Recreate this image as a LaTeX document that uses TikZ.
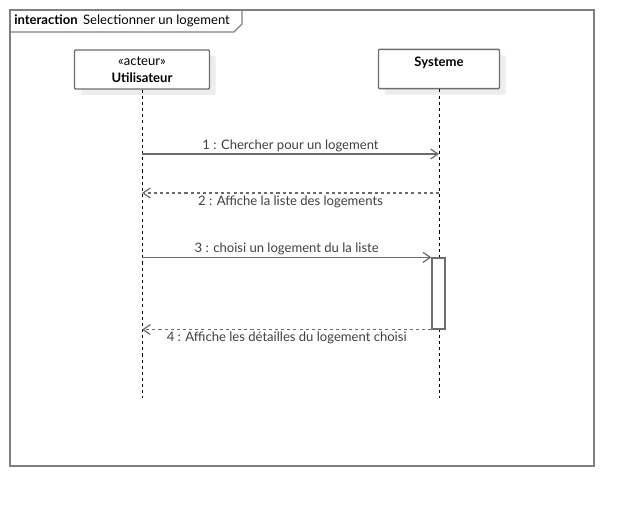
\documentclass[tikz,border=0pt]{standalone}
\usepackage{fontspec}
\setmainfont{Lato}
\usetikzlibrary{arrows.meta,positioning,shadows}
\definecolor{framegray}{HTML}{808080}
\definecolor{boxgray}{HTML}{6E6E6E}
\definecolor{msggray}{HTML}{6A6A6A}
\definecolor{labelgray}{HTML}{404040}
\definecolor{shadegray}{HTML}{EDEDED}
\tikzset{
  lifebox/.style={draw=boxgray, fill=white, line width=1.1pt, rounded corners=0.8pt,
    align=center, inner sep=0pt, font=\fontsize{9.8}{12.5}\selectfont,
    drop shadow={shadow xshift=4.5pt, shadow yshift=-4.5pt, fill=shadegray, opacity=1}},
  lifeline/.style={black, line width=0.6pt, dash pattern=on 2.3pt off 2.3pt},
  msg/.style={draw=msggray, line width=0.9pt, -{Straight Barb[length=5.5pt, width=7.5pt]}},
  reply/.style={msg, dash pattern=on 2.3pt off 2.3pt},
  msglabel/.style={font=\fontsize{9.8}{11}\selectfont, text=labelgray, inner sep=1.5pt},
  activation/.style={draw=boxgray, fill=white, line width=0.9pt}
}
\begin{document}
\begin{tikzpicture}[x=0.75pt, y=-0.75pt]
  \useasboundingbox (0,0) rectangle (634,506);

  % frame of the interaction
  \draw[framegray, line width=1.5pt] (10,10) rectangle (594,466);
  \node[anchor=west, inner sep=0pt, font=\fontsize{9.8}{11}\selectfont] (title) at (14,21)
    {\textbf{interaction}\, Selectionner un logement};
  \draw[framegray, line width=1pt] (10,32) -- (234,32) -- (242,24) -- (242,10);

  % lifelines
  \node[lifebox, minimum width=101.25pt, minimum height=29.25pt] (user) at (142,69.5)
    {«acteur»\\\textbf{Utilisateur}};
  \node[lifebox, minimum width=90.75pt, minimum height=29.5pt] (sys) at (439,69) {};
  \node[font=\fontsize{9.8}{11}\selectfont] (sysname) at (439,63) {\textbf{Systeme}};
  \coordinate (userEnd) at (user.south |- 0,398);
  \coordinate (sysEnd) at (sys.south |- 0,398);
  \draw[lifeline] (user.south) -- (userEnd);
  \draw[lifeline] (sys.south) -- (sysEnd);

  % activation
  \node[activation, minimum width=9.75pt, minimum height=53.25pt, inner sep=0pt] (act) at (438.5,293.5) {};

  % messages
  \coordinate (m1a) at (user.south |- 0,154);
  \coordinate (m1b) at (sys.south |- 0,154);
  \draw[msg] (m1a) -- node[msglabel, above] {1 : Chercher pour un logement} (m1b);
  \coordinate (m2a) at (sys.south |- 0,193);
  \coordinate (m2b) at (user.south |- 0,193);
  \draw[reply] (m2a) -- node[msglabel, below] {2 : Affiche la liste des logements} (m2b);
  \coordinate (m3a) at (user.south |- act.north west);
  \draw[msg] (m3a) -- node[msglabel, above] {3 : choisi un logement du la liste} (act.north west);
  \coordinate (m4b) at (user.south |- act.south west);
  \draw[reply] (act.south west) -- node[msglabel, below] {4 : Affiche les détailles du logement choisi} (m4b);
\end{tikzpicture}
\end{document}
